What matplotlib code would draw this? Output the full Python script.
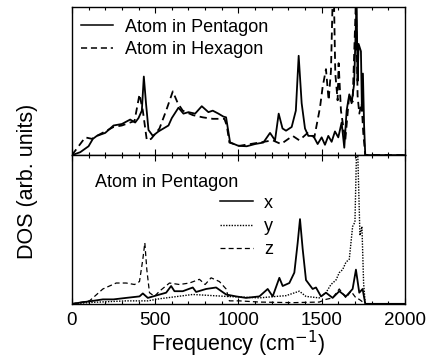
import matplotlib
matplotlib.use("Agg")
import matplotlib.pyplot as plt
from matplotlib.ticker import MultipleLocator
from matplotlib.lines import Line2D

plt.rcParams['font.family'] = ['Liberation Sans', 'DejaVu Sans']

# Top panel: DOS for atom in pentagon (solid) and hexagon (dashed)
f_pent = [0, 50, 100, 126, 150, 200, 250, 300, 350, 380, 400, 420, 432, 445, 460, 486, 520, 550, 580, 600, 640, 670, 700, 740, 780, 820, 846, 880, 910, 926,
          950, 1000, 1050, 1100, 1150, 1190, 1220, 1242, 1265, 1286, 1320, 1345, 1362, 1380, 1400, 1420, 1450, 1476, 1500, 1520, 1540, 1560, 1580, 1600,
          1620, 1636, 1650, 1666, 1680, 1695, 1710, 1716, 1722, 1736, 1742, 1748, 1755, 1762, 1800, 2000]
d_pent = [0.0, 0.02, 0.06, 0.11, 0.13, 0.15, 0.2, 0.21, 0.24, 0.22, 0.25, 0.3, 0.53, 0.35, 0.17, 0.13, 0.16, 0.18, 0.2, 0.25, 0.32, 0.28, 0.29, 0.28, 0.33, 0.29, 0.3, 0.28, 0.26, 0.255,
          0.086, 0.063, 0.06, 0.075, 0.085, 0.15, 0.1, 0.28, 0.18, 0.165, 0.19, 0.3, 0.67, 0.35, 0.18, 0.13, 0.13, 0.075, 0.12, 0.07, 0.13, 0.09, 0.16, 0.12,
          0.22, 0.05, 0.3, 0.41, 0.35, 0.48, 1.05, 0.5, 0.75, 0.7, 0.3, 0.55, 0.2, 0.0, 0.0, 0.0]

f_hex = [0, 40, 80, 120, 150, 200, 250, 300, 350, 376, 406, 426, 450, 476, 526, 566, 606, 636, 666, 726, 786, 846, 916, 930, 946, 1006, 1126, 1206, 1256,
         1326, 1366, 1416, 1456, 1490, 1506, 1526, 1542, 1556, 1566, 1574, 1582, 1596, 1602, 1616, 1642, 1666, 1686, 1706, 1716, 1726, 1740, 1750, 1762, 1800, 2000]
d_hex = [0.0, 0.06, 0.12, 0.11, 0.13, 0.16, 0.19, 0.2, 0.22, 0.23, 0.41, 0.3, 0.1, 0.11, 0.18, 0.3, 0.43, 0.35, 0.3, 0.27, 0.255, 0.245, 0.245, 0.2, 0.085, 0.063, 0.085, 0.1, 0.075,
         0.13, 0.1, 0.15, 0.12, 0.32, 0.46, 0.58, 0.37, 0.57, 1.05, 1.05, 0.55, 0.37, 0.62, 0.3, 0.1, 0.41, 0.36, 1.05, 0.4, 0.28, 0.35, 0.15, 0.0, 0.0, 0.0]

# Bottom panel: pentagon atom, x / y / z projected DOS
f_x = [0, 60, 126, 186, 250, 326, 406, 426, 456, 506, 566, 596, 616, 666, 726, 746, 806, 866, 926, 986, 1046, 1126, 1176, 1206, 1246, 1266, 1306, 1336,
       1356, 1370, 1386, 1406, 1446, 1466, 1496, 1526, 1566, 1606, 1646, 1686, 1706, 1726, 1746, 1762, 1800, 2000]
d_x = [0.0, 0.01, 0.02, 0.03, 0.03, 0.04, 0.05, 0.07, 0.04, 0.056, 0.075, 0.12, 0.085, 0.085, 0.11, 0.08, 0.1, 0.11, 0.063, 0.05, 0.04, 0.05, 0.1, 0.05, 0.175, 0.12, 0.14, 0.21,
       0.41, 0.57, 0.37, 0.16, 0.1, 0.11, 0.05, 0.075, 0.04, 0.085, 0.05, 0.1, 0.23, 0.075, 0.1, 0.0, 0.0, 0.0]

f_y = [0, 126, 326, 456, 526, 726, 926, 1126, 1226, 1286, 1366, 1406, 1486, 1526, 1556, 1586, 1606, 1626, 1646, 1666, 1686, 1700, 1710, 1716, 1730, 1742, 1752, 1762, 1800, 2000]
d_y = [0.0, 0.01, 0.02, 0.02, 0.034, 0.063, 0.05, 0.04, 0.05, 0.055, 0.085, 0.05, 0.04, 0.075, 0.13, 0.16, 0.21, 0.23, 0.28, 0.3, 0.52, 0.55, 1.05, 1.05, 0.46, 0.52, 0.14, 0.0, 0.0, 0.0]

f_z = [0, 106, 186, 266, 326, 376, 406, 426, 438, 450, 466, 496, 526, 586, 646, 706, 766, 800, 836, 886, 926, 946, 1006, 1126, 1326, 1486, 1526, 1566, 1606, 1646, 1676, 1706, 1726, 1762, 1800, 2000]
d_z = [0.0, 0.02, 0.1, 0.14, 0.14, 0.13, 0.15, 0.3, 0.41, 0.23, 0.075, 0.05, 0.085, 0.14, 0.13, 0.14, 0.165, 0.13, 0.175, 0.15, 0.1, 0.02, 0.02, 0.012, 0.008, 0.012, 0.03, 0.04, 0.1, 0.04, 0.085, 0.04, 0.03, 0.0, 0.0, 0.0]

top_labels = ["Atom in Pentagon", "Atom in Hexagon"]
bottom_title = "Atom in Pentagon"
bottom_labels = ["x", "y", "z"]

fig = plt.figure(figsize=(4.28, 3.6), dpi=100)
ax1 = fig.add_axes([0.168, 0.569, 0.778, 0.412])
ax2 = fig.add_axes([0.168, 0.156, 0.778, 0.413])

lw = 1.3
dash = (0, (4, 2.5))
ax1.plot(f_pent, d_pent, color='black', lw=lw, ls='-')
ax1.plot(f_hex, d_hex, color='black', lw=lw, ls=dash)

ax2.plot(f_x, d_x, color='black', lw=lw, ls='-')
ax2.plot(f_y, d_y, color='black', lw=1.0, ls=(0, (1, 1)))
ax2.plot(f_z, d_z, color='black', lw=0.9, ls=dash)

for ax in (ax1, ax2):
    ax.set_xlim(0, 2000)
    ax.set_ylim(0, 1)
    ax.xaxis.set_major_locator(MultipleLocator(500))
    ax.xaxis.set_minor_locator(MultipleLocator(100))
    ax.tick_params(axis='x', which='both', direction='in', top=True, bottom=True)
    ax.tick_params(axis='x', which='major', length=4, width=0.8)
    ax.tick_params(axis='x', which='minor', length=2.5, width=0.8)
    ax.set_yticks([])
    for s in ax.spines.values():
        s.set_linewidth(1.0)

ax1.tick_params(axis='x', labelbottom=False)
ax2.tick_params(axis='x', labelsize=13.5, pad=6)

fs_leg = 13
h1 = [Line2D([], [], color='black', lw=1.1, ls='-'),
      Line2D([], [], color='black', lw=1.1, ls=dash)]
ax1.legend(h1, top_labels, loc='upper left', frameon=False, fontsize=fs_leg,
           handlelength=1.8, handletextpad=0.65, labelspacing=0.3,
           bbox_to_anchor=(0.027, 0.92), borderaxespad=0.0, borderpad=0.0)

ax2.text(0.069, 0.815, bottom_title, transform=ax2.transAxes, fontsize=fs_leg, va='center', ha='left')
h2 = [Line2D([], [], color='black', lw=1.1, ls='-'),
      Line2D([], [], color='black', lw=1.0, ls=(0, (1, 1))),
      Line2D([], [], color='black', lw=0.9, ls=dash)]
ax2.legend(h2, bottom_labels, loc='upper left', frameon=False, fontsize=fs_leg,
           handlelength=1.85, handletextpad=0.6, labelspacing=0.35,
           bbox_to_anchor=(0.444, 0.735), borderaxespad=0.0, borderpad=0.0)

ax2.set_xlabel("Frequency (cm$^{-1}$)", fontsize=15.5, labelpad=0)
fig.text(0.065, 0.497, "DOS (arb. units)", rotation=90, fontsize=15.5, va='center', ha='center')

fig.savefig("out.png", dpi=100)
